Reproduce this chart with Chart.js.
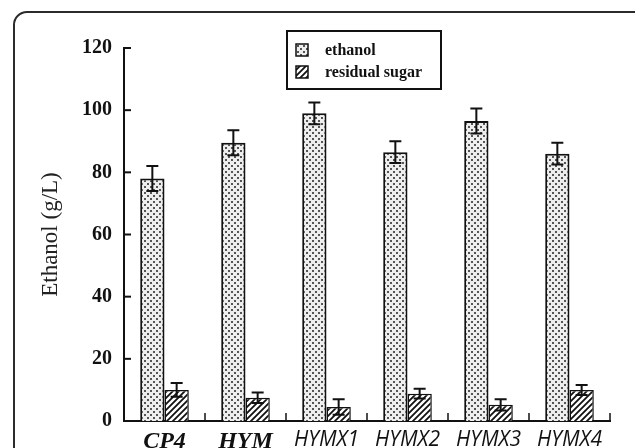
<!DOCTYPE html>
<html>
<head>
<meta charset="utf-8">
<script src="https://cdn.jsdelivr.net/npm/chart.js@4.4.0/dist/chart.umd.min.js"></script>
<style>
    html, body { margin: 0; padding: 0; background: #fff; overflow: hidden; }
    #wrap { position: relative; width: 635px; height: 448px; overflow: hidden; }
    #frame {
        position: absolute; left: 13px; top: 11px; width: 640px; height: 470px;
        border: 2px solid #2b2b2b; border-radius: 14px; box-sizing: border-box;
    }
    #chart { position: absolute; left: 0; top: 0; }
</style>
</head>
<body>
<div id="wrap">
    <div id="frame"></div>
    <canvas id="chart" width="635" height="448"></canvas>
</div>
<script>
// data
const categories = ['CP4', 'HYM', 'HYMX1', 'HYMX2', 'HYMX3', 'HYMX4'];
const ethanol = [78, 89.5, 99, 86.5, 96.5, 86];
const ethanolErr = [4, 4, 3.5, 3.5, 4, 3.5];
const sugar = [10, 7.5, 4.5, 8.8, 5.2, 10];
const sugarErr = [2.2, 1.7, 2.5, 1.6, 1.8, 1.6];
const yMin = 0, yMax = 120, yStep = 20;

// fill patterns
function dotPattern() {
    const c = document.createElement('canvas');
    c.width = 6; c.height = 6;
    const g = c.getContext('2d');
    g.fillStyle = '#eeeeee';
    g.fillRect(0, 0, 6, 6);
    g.fillStyle = '#555';
    g.fillRect(0, 0, 2, 2);
    g.fillRect(3, 3, 2, 2);
    return g.createPattern(c, 'repeat');
}

function hatchPattern() {
    const c = document.createElement('canvas');
    c.width = 6; c.height = 6;
    const g = c.getContext('2d');
    g.fillStyle = '#fff';
    g.fillRect(0, 0, 6, 6);
    g.strokeStyle = '#111';
    g.lineWidth = 1.8;
    g.beginPath();
    g.moveTo(0, 6); g.lineTo(6, 0);
    g.moveTo(-1, 1); g.lineTo(1, -1);
    g.moveTo(5, 7); g.lineTo(7, 5);
    g.stroke();
    return g.createPattern(c, 'repeat');
}

const dots = dotPattern();
const hatch = hatchPattern();
const errors = [ethanolErr, sugarErr];

// error bars, inward ticks and the boxed legend
const extras = {
    id: 'extras',
    afterDatasetsDraw(chart) {
        const ctx = chart.ctx;
        const y = chart.scales.y;
        const x = chart.scales.x;
        const area = chart.chartArea;
        ctx.save();
        ctx.strokeStyle = '#111';
        ctx.lineWidth = 2;

        chart.data.datasets.forEach(function (ds, i) {
            chart.getDatasetMeta(i).data.forEach(function (bar, j) {
                const v = ds.data[j];
                const e = errors[i][j];
                const top = y.getPixelForValue(v + e);
                const bot = y.getPixelForValue(v - e);
                ctx.beginPath();
                ctx.moveTo(bar.x, top); ctx.lineTo(bar.x, bot);
                ctx.moveTo(bar.x - 6, top); ctx.lineTo(bar.x + 6, top);
                ctx.moveTo(bar.x - 6, bot); ctx.lineTo(bar.x + 6, bot);
                ctx.stroke();
            });
        });

        // y ticks pointing into the plot
        y.ticks.forEach(function (t) {
            const py = y.getPixelForValue(t.value);
            ctx.beginPath();
            ctx.moveTo(area.left, py); ctx.lineTo(area.left + 7, py);
            ctx.stroke();
        });
        // x ticks between categories
        ctx.lineWidth = 1.5;
        for (let i = 0; i < categories.length; i++) {
            const px = x.getPixelForValue(i + 0.5);
            ctx.beginPath();
            ctx.moveTo(px, area.bottom); ctx.lineTo(px, area.bottom - 8);
            ctx.stroke();
        }

        // legend
        ctx.lineWidth = 2;
        ctx.strokeRect(287, 31, 154, 58);
        ctx.font = 'bold 16px "Liberation Serif"';
        ctx.textBaseline = 'middle';
        chart.data.datasets.forEach(function (ds, i) {
            const ly = 50 + i * 22;
            ctx.fillStyle = ds.backgroundColor;
            ctx.fillRect(296, ly - 6, 12, 12);
            ctx.lineWidth = 1.5;
            ctx.strokeRect(296, ly - 6, 12, 12);
            ctx.fillStyle = '#111';
            ctx.fillText(ds.label, 325, ly + 1);
        });
        ctx.restore();
    }
};

const chart = new Chart(document.getElementById('chart').getContext('2d'), {
    type: 'bar',
    data: {
        labels: categories,
        datasets: [
            {
                label: 'ethanol',
                data: ethanol,
                backgroundColor: dots,
                borderColor: '#111',
                borderWidth: 2
            },
            {
                label: 'residual sugar',
                data: sugar,
                backgroundColor: hatch,
                borderColor: '#111',
                borderWidth: 1.5
            }
        ]
    },
    options: {
        responsive: false,
        animation: false,
        devicePixelRatio: 1,
        layout: { padding: { top: 48, right: 25, left: 0, bottom: 0 } },
        plugins: {
            legend: { display: false },
            tooltip: { enabled: false }
        },
        datasets: {
            bar: { barPercentage: 1, categoryPercentage: 0.6 }
        },
        scales: {
            x: {
                grid: { display: false, drawTicks: false },
                border: { display: true, color: '#111', width: 2 },
                ticks: {
                    color: '#111',
                    padding: 9,
                    maxRotation: 0,
                    font: function (c) {
                        if (c.index < 2) {
                            return { family: '"Liberation Serif"', size: 24, weight: 'bold', style: 'italic', lineHeight: 1 };
                        }
                        return { family: '"Open Sans"', size: 21, style: 'italic', lineHeight: 1 };
                    }
                },
                afterFit: function (s) { s.height = 27; }
            },
            y: {
                min: yMin,
                max: yMax,
                grid: { display: false, drawTicks: false },
                border: { display: true, color: '#111', width: 2 },
                ticks: {
                    stepSize: yStep,
                    color: '#111',
                    padding: 12,
                    font: { family: '"Liberation Serif"', size: 20, weight: 'bold' }
                },
                title: {
                    display: true,
                    text: 'Ethanol (g/L)',
                    color: '#222',
                    padding: { top: 37, bottom: 0 },
                    font: { family: '"Liberation Serif"', size: 23, lineHeight: 1.2 }
                },
                afterFit: function (s) { s.width = 124; }
            }
        }
    },
    plugins: [extras]
});
</script>
</body>
</html>
